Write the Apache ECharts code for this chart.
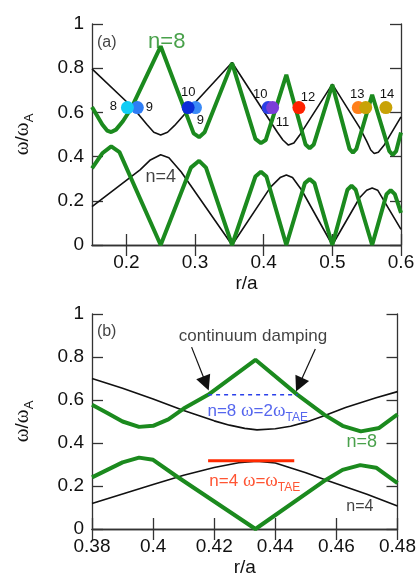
<!DOCTYPE html>
<html lang="en">
<head>
    <meta charset="UTF-8">
    <title>continuum</title>
    <style>
        html, body { margin: 0; padding: 0; background: white; }
        #fig { width: 419px; height: 578px; }
    </style>
    <script src="https://cdn.jsdelivr.net/npm/echarts@6/dist/echarts.min.js"></script>
</head>
<body>
<div id="fig"></div>
<script>
    // (a) r/a from 0.15 to 0.6
    const blackUpperA = [[0.15, 0.797], [0.21, 0.62], [0.23, 0.545], [0.24, 0.51], [0.25, 0.498], [0.26, 0.51], [0.27, 0.54],
        [0.29, 0.61], [0.354, 0.826], [0.397, 0.62], [0.42, 0.51], [0.428, 0.475], [0.436, 0.452], [0.444, 0.462],
        [0.452, 0.495], [0.5, 0.728], [0.54, 0.53], [0.55, 0.47], [0.556, 0.43], [0.561, 0.414], [0.567, 0.42],
        [0.575, 0.45], [0.6, 0.58]];
    const blackLowerA = [[0.15, 0.174], [0.22, 0.34], [0.235, 0.385], [0.25, 0.408], [0.262, 0.395], [0.28, 0.33], [0.354, 0],
        [0.41, 0.262], [0.424, 0.305], [0.433, 0.317], [0.442, 0.305], [0.455, 0.25], [0.5, 0],
        [0.54, 0.215], [0.55, 0.248], [0.558, 0.258], [0.566, 0.248], [0.6, 0.071]];
    const greenUpperA = [[0.15, 0.624], [0.165, 0.545], [0.172, 0.518], [0.178, 0.511], [0.185, 0.522], [0.195, 0.56],
        [0.2075, 0.62], [0.25, 0.899], [0.298, 0.505], [0.306, 0.488], [0.314, 0.51], [0.354, 0.823],
        [0.388, 0.48], [0.396, 0.461], [0.403, 0.475], [0.433, 0.77], [0.461, 0.455], [0.467, 0.438],
        [0.473, 0.455], [0.5, 0.725], [0.525, 0.435], [0.53, 0.418], [0.535, 0.435], [0.558, 0.68],
        [0.583, 0.425], [0.588, 0.408], [0.593, 0.425], [0.6, 0.509]];
    const greenLowerA = [[0.15, 0.347], [0.165, 0.415], [0.178, 0.446], [0.19, 0.42], [0.25, 0], [0.294, 0.35],
        [0.306, 0.381], [0.316, 0.35], [0.354, 0], [0.388, 0.31], [0.396, 0.332], [0.404, 0.31], [0.433, 0],
        [0.46, 0.28], [0.467, 0.298], [0.474, 0.28], [0.5, 0], [0.522, 0.25], [0.528, 0.268], [0.534, 0.25],
        [0.558, 0], [0.579, 0.23], [0.585, 0.248], [0.591, 0.23], [0.6, 0.145]];

    // resonance points (a)
    const dotR = [0.216, 0.2016, 0.3007, 0.290, 0.4066, 0.413, 0.4513, 0.5378, 0.5486, 0.578];
    const dotW = [0.622, 0.622, 0.622, 0.622, 0.622, 0.622, 0.622, 0.622, 0.622, 0.622];
    const dotN = ['9', '8', '9', '10', '10', '11', '12', '13', '', '14'];
    const dotColors = ['#2f7df5', '#12cdf5', '#3a8af7', '#0b2dd8', '#2b3fe6', '#7b3fd8', '#ff2200', '#ff7f1a', '#c8a206', '#c8a206'];
    const dotLabelOffset = [[12, 0], [-14, -1], [5, 13], [0, -15], [-8, -13], [10, 15], [9, -10], [-1, -13], [0, 0], [1, -13]];

    // (b) r/a from 0.38 to 0.48
    const blackUpperB = [[0.38, 0.70], [0.39, 0.655], [0.40, 0.605], [0.41, 0.551], [0.42, 0.503], [0.425, 0.483],
        [0.43, 0.468], [0.434, 0.461], [0.44, 0.466], [0.445, 0.478], [0.45, 0.497], [0.456, 0.527],
        [0.463, 0.565], [0.473, 0.61], [0.48, 0.639]];
    const blackLowerB = [[0.38, 0.119], [0.39, 0.163], [0.40, 0.207], [0.41, 0.25], [0.42, 0.286], [0.428, 0.308],
        [0.434, 0.315], [0.44, 0.307], [0.45, 0.262], [0.457, 0.226], [0.47, 0.162], [0.48, 0.107]];
    const greenUpperB = [[0.38, 0.578], [0.385, 0.54], [0.39, 0.5], [0.3954, 0.475], [0.40, 0.48], [0.405, 0.51],
        [0.41, 0.56], [0.418, 0.624], [0.4335, 0.787], [0.4473, 0.624], [0.456, 0.532], [0.462, 0.48],
        [0.468, 0.454], [0.474, 0.47], [0.48, 0.533]];
    const greenLowerB = [[0.38, 0.24], [0.385, 0.275], [0.39, 0.31], [0.3954, 0.332], [0.40, 0.322], [0.4079, 0.243],
        [0.4335, 0], [0.4565, 0.228], [0.462, 0.275], [0.4678, 0.297], [0.473, 0.285], [0.48, 0.213]];
    const tae8 = [[0.418, 0.624], [0.4473, 0.624]];
    const tae4 = [[0.418, 0.317], [0.4462, 0.317]];

    const ticksA = [0.2, 0.3, 0.4, 0.5, 0.6];
    const ticksB = [0.38, 0.4, 0.42, 0.44, 0.46, 0.48];
    const ticksY = [0, 0.2, 0.4, 0.6, 0.8, 1];

    const sans = '"Liberation Sans", Arial, sans-serif';
    const serif = '"Liberation Serif", "Times New Roman", serif';
    const green = '#1b8a1e';
    const frame = '#333';

    const rich = {
        m: {fontFamily: sans, fontSize: 17},
        w: {fontFamily: serif, fontSize: 19},
        s: {fontFamily: sans, fontSize: 12, padding: [13, 0, 0, 0]}
    };

    function fmt(v) {
        return String(+v.toFixed(2));
    }

    function xAxes(grid, min, max, ticks) {
        return [{
            type: 'value', gridIndex: grid, min: min, max: max, position: 'bottom',
            name: 'r/a', nameLocation: 'middle', nameGap: 29,
            nameTextStyle: {fontFamily: sans, fontSize: 19, color: '#111'},
            axisLine: {lineStyle: {color: frame, width: 1.3}},
            axisTick: {inside: true, length: 11, customValues: ticks, lineStyle: {color: frame, width: 1.3}},
            axisLabel: {customValues: ticks, formatter: fmt, fontFamily: sans, fontSize: 19, color: '#111', margin: 8},
            splitLine: {show: false}
        }, {
            type: 'value', gridIndex: grid, min: min, max: max, position: 'top',
            axisLine: {lineStyle: {color: frame, width: 1.3}},
            axisTick: {inside: true, length: 11, customValues: ticks, lineStyle: {color: frame, width: 1.3}},
            axisLabel: {show: false, customValues: ticks},
            splitLine: {show: false}
        }];
    }

    function yAxes(grid) {
        return [{
            type: 'value', gridIndex: grid, min: 0, max: 1, position: 'left',
            name: '{w|ω}{m|/}{w|ω}{s|A}', nameLocation: 'middle', nameGap: 56, nameRotate: 90,
            nameTextStyle: {color: '#111', rich: {
                m: {fontFamily: sans, fontSize: 19},
                w: {fontFamily: serif, fontSize: 21},
                s: {fontFamily: sans, fontSize: 13, padding: [14, 0, 0, 0]}
            }},
            axisLine: {lineStyle: {color: frame, width: 1.3}},
            axisTick: {inside: true, length: 11, customValues: ticksY, lineStyle: {color: frame, width: 1.3}},
            axisLabel: {customValues: ticksY, formatter: fmt, fontFamily: sans, fontSize: 19, color: '#111', margin: 8},
            splitLine: {show: false}
        }, {
            type: 'value', gridIndex: grid, min: 0, max: 1, position: 'right',
            axisLine: {lineStyle: {color: frame, width: 1.3}},
            axisTick: {inside: true, length: 11, customValues: ticksY, lineStyle: {color: frame, width: 1.3}},
            axisLabel: {show: false, customValues: ticksY},
            splitLine: {show: false}
        }];
    }

    function curve(data, xi, yi, color, width, extra) {
        return Object.assign({
            type: 'line', xAxisIndex: xi, yAxisIndex: yi, data: data, showSymbol: false, symbol: 'none',
            lineStyle: {color: color, width: width}, silent: true, animation: false
        }, extra || {});
    }

    // text placed at data coordinates
    function texts(xi, yi, items) {
        return {
            type: 'scatter', xAxisIndex: xi, yAxisIndex: yi, symbolSize: 1, silent: true, animation: false, z: 5,
            itemStyle: {color: 'rgba(0,0,0,0)'},
            data: items.map(t => ({
                value: [t[0], t[1]],
                label: Object.assign({show: true, position: 'inside', formatter: t[2], rich: rich,
                    fontFamily: sans, fontSize: 17, color: '#111'}, t[3] || {})
            }))
        };
    }

    const dots = {
        type: 'scatter', xAxisIndex: 0, yAxisIndex: 0, symbolSize: 13, z: 4, silent: true, animation: false,
        data: dotR.map((r, i) => ({
            value: [r, dotW[i]],
            itemStyle: {color: dotColors[i], opacity: 1},
            label: {show: dotN[i] !== '', position: 'inside', offset: dotLabelOffset[i], formatter: dotN[i],
                fontFamily: sans, fontSize: 13, color: '#111'}
        }))
    };

    const textsA = texts(0, 0, [
        [0.1714, 0.915, '(a)', {fontSize: 16}],
        [0.2589, 0.92, 'n=8', {fontSize: 22, color: green}],
        [0.250, 0.308, 'n=4', {fontSize: 18}]
    ]);

    const textsB = texts(2, 2, [
        [0.3848, 0.916, '(b)', {fontSize: 16}],
        [0.4327, 0.896, 'continuum damping', {fontSize: 17}],
        [0.4178, 0.549, '{m|n=8 }{w|ω}{m|=2}{w|ω}{s|TAE}', {align: 'left', color: '#2a40ea'}],
        [0.4184, 0.221, '{m|n=4 }{w|ω}{m|=}{w|ω}{s|TAE}', {align: 'left', color: '#ff2a00'}],
        [0.4683, 0.403, 'n=8', {fontSize: 18, color: green}],
        [0.4677, 0.103, 'n=4', {fontSize: 16}]
    ]);

    const arrows = {
        silent: true, symbol: ['none', 'triangle'], symbolSize: 15, animation: false,
        lineStyle: {color: '#111', width: 1.2, type: 'solid', opacity: 1}, label: {show: false},
        itemStyle: {color: '#111'},
        data: [
            [{coord: [0.4126, 0.846]}, {coord: [0.4173, 0.677]}],
            [{coord: [0.4531, 0.837]}, {coord: [0.4478, 0.671]}]
        ]
    };

    const fig = echarts.init(document.getElementById('fig'), null, {renderer: 'canvas'});
    fig.setOption({
        backgroundColor: '#fff',
        animation: false,
        grid: [
            {left: 92, top: 24, width: 309, height: 221},
            {left: 92, top: 314, width: 309, height: 219}
        ],
        xAxis: xAxes(0, 0.15, 0.6, ticksA).concat(xAxes(1, 0.38, 0.48, ticksB)),
        yAxis: yAxes(0).concat(yAxes(1)),
        series: [
            curve(blackUpperA, 0, 0, '#111', 1.6),
            curve(blackLowerA, 0, 0, '#111', 1.6),
            curve(greenUpperA, 0, 0, green, 4),
            curve(greenLowerA, 0, 0, green, 4),
            dots,
            textsA,
            curve(blackUpperB, 2, 2, '#111', 1.6),
            curve(blackLowerB, 2, 2, '#111', 1.6),
            curve(greenUpperB, 2, 2, green, 4, {markLine: arrows}),
            curve(greenLowerB, 2, 2, green, 4),
            curve(tae8, 2, 2, '#2a40ea', 1.5, {lineStyle: {color: '#2a40ea', width: 1.5, type: [4, 4]}}),
            curve(tae4, 2, 2, '#ff2a00', 3),
            textsB
        ]
    });
</script>
</body>
</html>
